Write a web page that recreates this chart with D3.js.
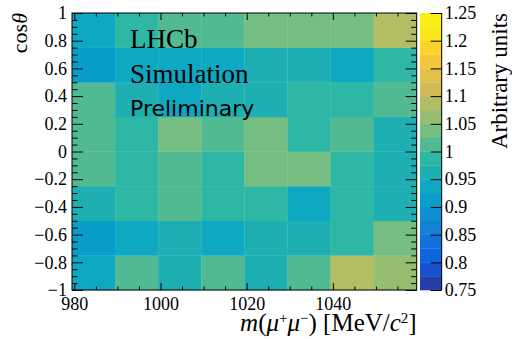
<!DOCTYPE html>
<html>
<head>
<meta charset="utf-8">
<script src="https://cdn.jsdelivr.net/npm/d3@7"></script>
<style>
  html, body { margin: 0; padding: 0; background: #fff; }
  svg { display: block; font-family: 'Liberation Serif', 'Times New Roman', serif; }
  .axis path { display: none; }
  .axis line { stroke: #000; stroke-width: 1; }
  .axis text { font-size: 18px; fill: #000; font-family: 'Liberation Serif', serif; }
</style>
</head>
<body>
<svg width="512" height="339"></svg>
<script>
// bin edges
const massEdges = [979.46, 989.46, 999.46, 1009.46, 1019.46, 1029.46, 1039.46, 1049.46, 1059.46]
const cosEdges = [-1, -0.75, -0.5, -0.25, 0, 0.25, 0.5, 0.75, 1]

// cell contents, one row per cos(theta) bin, from -1 upward
const cellRows = [
  [0.94, 1.01, 0.96, 1.01, 0.96, 1.01, 1.09, 1.06],
  [0.91, 0.94, 0.96, 0.94, 0.96, 0.96, 0.99, 1.04],
  [0.96, 0.99, 1.01, 0.99, 0.99, 0.94, 0.99, 0.96],
  [1.01, 0.99, 1.01, 0.99, 1.04, 1.04, 0.99, 0.96],
  [1.01, 0.99, 1.04, 1.01, 1.04, 0.99, 1.01, 0.96],
  [1.01, 0.96, 0.94, 0.96, 0.96, 0.99, 0.99, 1.01],
  [0.91, 0.94, 0.94, 0.94, 0.96, 0.96, 0.94, 0.99],
  [0.94, 0.99, 1.005, 1.01, 1.04, 1.04, 1.04, 1.09],
]

// tick labels
const massTicks = [980, 1000, 1020, 1040]
const cosTicks = [-1, -0.8, -0.6, -0.4, -0.2, 0, 0.2, 0.4, 0.6, 0.8, 1]
const zTicks = [0.75, 0.8, 0.85, 0.9, 0.95, 1, 1.05, 1.1, 1.15, 1.2, 1.25]
const zRange = [0.75, 1.25]
const nContours = 20

// ROOT kBird palette
const birdStops = [0, 0.125, 0.25, 0.375, 0.5, 0.625, 0.75, 0.875, 1]
const birdR = [0.2082, 0.0592, 0.078, 0.0232, 0.1802, 0.5301, 0.8186, 0.9956, 0.9764]
const birdG = [0.1664, 0.3599, 0.5041, 0.6419, 0.7178, 0.7492, 0.7328, 0.7862, 0.9832]
const birdB = [0.5293, 0.8684, 0.8385, 0.7914, 0.6425, 0.4662, 0.3499, 0.1968, 0.0539]

const rScale = d3.scaleLinear().domain(birdStops).range(birdR)
const gScale = d3.scaleLinear().domain(birdStops).range(birdG)
const bScale = d3.scaleLinear().domain(birdStops).range(birdB)

function bird(t) {
  return d3.rgb(rScale(t) * 255, gScale(t) * 255, bScale(t) * 255).formatHex()
}

const step = (zRange[1] - zRange[0]) / nContours
function bandOf(v) {
  return Math.max(0, Math.min(nContours - 1, Math.floor((v - zRange[0]) / step + 1e-6)))
}
function colorOf(v) {
  // top band a touch below the palette end, as in the reference
  return bird(Math.min(0.97, (bandOf(v) + 1) / nContours))
}

const plot = { left: 72, right: 416.7, top: 13, bottom: 290 }
const bar = { left: 420, right: 441.7 }

const x = d3.scaleLinear().domain([massEdges[0], massEdges[massEdges.length - 1]]).range([plot.left, plot.right])
const y = d3.scaleLinear().domain([cosEdges[0], cosEdges[cosEdges.length - 1]]).range([plot.bottom, plot.top])
const z = d3.scaleLinear().domain(zRange).range([plot.bottom, plot.top])

const svg = d3.select('svg')

// cells
const cells = []
cellRows.forEach((row, j) => {
  row.forEach((v, i) => {
    cells.push({ x0: massEdges[i], x1: massEdges[i + 1], y0: cosEdges[j], y1: cosEdges[j + 1], v })
  })
})

svg.append('g')
  .selectAll('rect')
  .data(cells)
  .enter()
  .append('rect')
  .attr('x', (d) => x(d.x0))
  .attr('y', (d) => y(d.y1))
  .attr('width', (d) => x(d.x1) - x(d.x0) + 0.3)
  .attr('height', (d) => y(d.y0) - y(d.y1) + 0.3)
  .attr('fill', (d) => colorOf(d.v))

// colour bar
const bands = d3.range(nContours).map((k) => zRange[0] + k * step)
svg.append('g')
  .selectAll('rect')
  .data(bands)
  .enter()
  .append('rect')
  .attr('x', bar.left)
  .attr('y', (d) => z(d + step))
  .attr('width', bar.right - bar.left)
  .attr('height', (d) => z(d) - z(d + step) + 0.3)
  .attr('fill', (d) => colorOf(d + step / 2))

svg.append('line')
  .attr('x1', bar.right).attr('x2', bar.right)
  .attr('y1', plot.top).attr('y2', plot.bottom)
  .attr('stroke', '#000')

svg.append('g')
  .attr('class', 'axis')
  .attr('transform', `translate(${bar.right},0)`)
  .call(d3.axisRight(z).tickValues(zTicks).tickFormat(d3.format('~g'))
    .tickSizeInner(-11).tickSizeOuter(0).tickPadding(3))

// minor tick positions
const massMinor = d3.range(985, 1059, 5).filter((v) => v % 20 !== 0)
const cosMinor = d3.range(-19, 20).map((k) => k * 0.05).filter((v) => Math.abs(Math.round(v * 100) % 20) !== 0)

// bottom
svg.append('g').attr('class', 'axis')
  .attr('transform', `translate(0,${plot.bottom})`)
  .call(d3.axisBottom(x).tickValues(massTicks).tickFormat(d3.format('d'))
    .tickSizeInner(-7).tickSizeOuter(0).tickPadding(7))
svg.append('g').attr('class', 'axis')
  .attr('transform', `translate(0,${plot.bottom})`)
  .call(d3.axisBottom(x).tickValues(massMinor).tickFormat('').tickSizeInner(-3.5).tickSizeOuter(0))

// top
svg.append('g').attr('class', 'axis')
  .attr('transform', `translate(0,${plot.top})`)
  .call(d3.axisTop(x).tickValues(massTicks).tickFormat('').tickSizeInner(-7).tickSizeOuter(0))
svg.append('g').attr('class', 'axis')
  .attr('transform', `translate(0,${plot.top})`)
  .call(d3.axisTop(x).tickValues(massMinor).tickFormat('').tickSizeInner(-3.5).tickSizeOuter(0))

// left
svg.append('g').attr('class', 'axis')
  .attr('transform', `translate(${plot.left},0)`)
  .call(d3.axisLeft(y).tickValues(cosTicks).tickFormat(d3.format('~g'))
    .tickSizeInner(-11).tickSizeOuter(0).tickPadding(5))
svg.append('g').attr('class', 'axis')
  .attr('transform', `translate(${plot.left},0)`)
  .call(d3.axisLeft(y).tickValues(cosMinor).tickFormat('').tickSizeInner(-5.5).tickSizeOuter(0))

// right
svg.append('g').attr('class', 'axis')
  .attr('transform', `translate(${plot.right},0)`)
  .call(d3.axisRight(y).tickValues(cosTicks).tickFormat('').tickSizeInner(-11).tickSizeOuter(0))
svg.append('g').attr('class', 'axis')
  .attr('transform', `translate(${plot.right},0)`)
  .call(d3.axisRight(y).tickValues(cosMinor).tickFormat('').tickSizeInner(-5.5).tickSizeOuter(0))

// frame
svg.append('rect')
  .attr('x', plot.left).attr('y', plot.top)
  .attr('width', plot.right - plot.left).attr('height', plot.bottom - plot.top)
  .attr('fill', 'none').attr('stroke', '#000')

// titles
const xt = svg.append('text')
  .attr('x', plot.right).attr('y', 331)
  .attr('text-anchor', 'end')
  .style('font-size', '25px')
xt.append('tspan').style('font-style', 'italic').text('m')
xt.append('tspan').text('(')
xt.append('tspan').style('font-style', 'italic').text('μ')
xt.append('tspan').attr('dy', -8).style('font-size', '15px').text('+')
xt.append('tspan').attr('dy', 8).style('font-style', 'italic').text('μ')
xt.append('tspan').attr('dy', -8).style('font-size', '15px').text('−')
xt.append('tspan').attr('dy', 8).text(') [MeV/')
xt.append('tspan').style('font-style', 'italic').text('c')
xt.append('tspan').attr('dy', -8).style('font-size', '15px').text('2')
xt.append('tspan').attr('dy', 8).text(']')

const yt = svg.append('text')
  .attr('transform', `translate(27,${plot.top}) rotate(-90)`)
  .attr('text-anchor', 'end')
  .style('font-size', '22px')
yt.append('tspan').text('cos')
yt.append('tspan').style('font-style', 'italic').text('θ')

svg.append('text')
  .attr('transform', `translate(507,${plot.top}) rotate(-90)`)
  .attr('text-anchor', 'end')
  .style('font-size', '23px')
  .text('Arbitrary units')

// label
svg.append('text').attr('x', 130).attr('y', 48).style('font-size', '27px').text('LHCb')
svg.append('text').attr('x', 130).attr('y', 83).style('font-size', '27px').text('Simulation')
svg.append('text').attr('x', 130).attr('y', 115.5)
  .style('font-size', '22px').style('font-family', "'DejaVu Sans', sans-serif")
  .text('Preliminary')
</script>
</body>
</html>
